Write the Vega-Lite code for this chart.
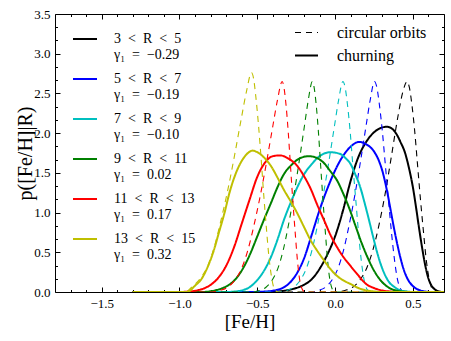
{
"$schema":"https://vega.github.io/schema/vega-lite/v6.json",
"width":389,"height":278,"autosize":"none",
"padding":{"left":55,"top":14,"right":7,"bottom":49},
"config":{"view":{"stroke":"black","strokeWidth":1},"font":"Liberation Serif","style":{"guide-label":{"lineHeight":16}},"axis":{"grid":false,"domain":false,"tickColor":"black","labelColor":"black","titleColor":"black","titleFontWeight":"normal","labelFontSize":13,"titleFontSize":20,"labelFont":"Liberation Serif","titleFont":"Liberation Serif"},"legend":{"labelFont":"Liberation Serif","labelColor":"black"}},
"data":{"values":[
{"bin":"3-5","type":"circ","feh":-1.3,"p":0},{"bin":"3-5","type":"circ","feh":0.013,"p":0},{"bin":"3-5","type":"circ","feh":0.063,"p":0.02},{"bin":"3-5","type":"circ","feh":0.113,"p":0.06},{"bin":"3-5","type":"circ","feh":0.163,"p":0.16},{"bin":"3-5","type":"circ","feh":0.203,"p":0.3},{"bin":"3-5","type":"circ","feh":0.243,"p":0.53},{"bin":"3-5","type":"circ","feh":0.283,"p":0.85},{"bin":"3-5","type":"circ","feh":0.323,"p":1.25},{"bin":"3-5","type":"circ","feh":0.363,"p":1.72},{"bin":"3-5","type":"circ","feh":0.403,"p":2.2},{"bin":"3-5","type":"circ","feh":0.433,"p":2.5},{"bin":"3-5","type":"circ","feh":0.463,"p":2.65},{"bin":"3-5","type":"circ","feh":0.477,"p":2.58},{"bin":"3-5","type":"circ","feh":0.493,"p":2.37},{"bin":"3-5","type":"circ","feh":0.511,"p":2.04},{"bin":"3-5","type":"circ","feh":0.53,"p":1.6},{"bin":"3-5","type":"circ","feh":0.549,"p":1.16},{"bin":"3-5","type":"circ","feh":0.569,"p":0.74},{"bin":"3-5","type":"circ","feh":0.585,"p":0.42},{"bin":"3-5","type":"circ","feh":0.601,"p":0.2},{"bin":"3-5","type":"circ","feh":0.617,"p":0.07},{"bin":"3-5","type":"circ","feh":0.631,"p":0.02},{"bin":"3-5","type":"circ","feh":0.649,"p":0},{"bin":"3-5","type":"circ","feh":0.7,"p":0},
{"bin":"3-5","type":"churn","feh":-1.3,"p":0},{"bin":"3-5","type":"churn","feh":-0.45,"p":0},{"bin":"3-5","type":"churn","feh":-0.4,"p":0.003},{"bin":"3-5","type":"churn","feh":-0.35,"p":0.01},{"bin":"3-5","type":"churn","feh":-0.3,"p":0.025},{"bin":"3-5","type":"churn","feh":-0.25,"p":0.05},{"bin":"3-5","type":"churn","feh":-0.2,"p":0.09},{"bin":"3-5","type":"churn","feh":-0.15,"p":0.16},{"bin":"3-5","type":"churn","feh":-0.1,"p":0.29},{"bin":"3-5","type":"churn","feh":-0.05,"p":0.47},{"bin":"3-5","type":"churn","feh":0.0,"p":0.7},{"bin":"3-5","type":"churn","feh":0.05,"p":1.02},{"bin":"3-5","type":"churn","feh":0.1,"p":1.4},{"bin":"3-5","type":"churn","feh":0.15,"p":1.7},{"bin":"3-5","type":"churn","feh":0.2,"p":1.89},{"bin":"3-5","type":"churn","feh":0.25,"p":2.01},{"bin":"3-5","type":"churn","feh":0.3,"p":2.07},{"bin":"3-5","type":"churn","feh":0.335,"p":2.08},{"bin":"3-5","type":"churn","feh":0.37,"p":2.05},{"bin":"3-5","type":"churn","feh":0.4,"p":1.97},{"bin":"3-5","type":"churn","feh":0.42,"p":1.89},{"bin":"3-5","type":"churn","feh":0.45,"p":1.75},{"bin":"3-5","type":"churn","feh":0.475,"p":1.56},{"bin":"3-5","type":"churn","feh":0.5,"p":1.32},{"bin":"3-5","type":"churn","feh":0.52,"p":1.07},{"bin":"3-5","type":"churn","feh":0.54,"p":0.8},{"bin":"3-5","type":"churn","feh":0.56,"p":0.55},{"bin":"3-5","type":"churn","feh":0.58,"p":0.33},{"bin":"3-5","type":"churn","feh":0.6,"p":0.17},{"bin":"3-5","type":"churn","feh":0.62,"p":0.08},{"bin":"3-5","type":"churn","feh":0.64,"p":0.035},{"bin":"3-5","type":"churn","feh":0.66,"p":0.012},{"bin":"3-5","type":"churn","feh":0.68,"p":0.003},{"bin":"3-5","type":"churn","feh":0.7,"p":0},
{"bin":"5-7","type":"circ","feh":-1.3,"p":0},{"bin":"5-7","type":"circ","feh":-0.152,"p":0},{"bin":"5-7","type":"circ","feh":-0.107,"p":0.02},{"bin":"5-7","type":"circ","feh":-0.062,"p":0.06},{"bin":"5-7","type":"circ","feh":-0.017,"p":0.16},{"bin":"5-7","type":"circ","feh":0.019,"p":0.3},{"bin":"5-7","type":"circ","feh":0.055,"p":0.53},{"bin":"5-7","type":"circ","feh":0.091,"p":0.85},{"bin":"5-7","type":"circ","feh":0.127,"p":1.22},{"bin":"5-7","type":"circ","feh":0.163,"p":1.64},{"bin":"5-7","type":"circ","feh":0.199,"p":2.09},{"bin":"5-7","type":"circ","feh":0.226,"p":2.42},{"bin":"5-7","type":"circ","feh":0.253,"p":2.65},{"bin":"5-7","type":"circ","feh":0.268,"p":2.58},{"bin":"5-7","type":"circ","feh":0.284,"p":2.37},{"bin":"5-7","type":"circ","feh":0.303,"p":2.04},{"bin":"5-7","type":"circ","feh":0.323,"p":1.6},{"bin":"5-7","type":"circ","feh":0.343,"p":1.16},{"bin":"5-7","type":"circ","feh":0.363,"p":0.74},{"bin":"5-7","type":"circ","feh":0.381,"p":0.42},{"bin":"5-7","type":"circ","feh":0.397,"p":0.2},{"bin":"5-7","type":"circ","feh":0.413,"p":0.07},{"bin":"5-7","type":"circ","feh":0.428,"p":0.02},{"bin":"5-7","type":"circ","feh":0.447,"p":0},{"bin":"5-7","type":"circ","feh":0.7,"p":0},
{"bin":"5-7","type":"churn","feh":-1.3,"p":0},{"bin":"5-7","type":"churn","feh":-0.55,"p":0},{"bin":"5-7","type":"churn","feh":-0.5,"p":0.002},{"bin":"5-7","type":"churn","feh":-0.45,"p":0.006},{"bin":"5-7","type":"churn","feh":-0.4,"p":0.016},{"bin":"5-7","type":"churn","feh":-0.35,"p":0.04},{"bin":"5-7","type":"churn","feh":-0.3,"p":0.1},{"bin":"5-7","type":"churn","feh":-0.25,"p":0.22},{"bin":"5-7","type":"churn","feh":-0.2,"p":0.42},{"bin":"5-7","type":"churn","feh":-0.15,"p":0.72},{"bin":"5-7","type":"churn","feh":-0.1,"p":1.03},{"bin":"5-7","type":"churn","feh":-0.05,"p":1.3},{"bin":"5-7","type":"churn","feh":0.0,"p":1.53},{"bin":"5-7","type":"churn","feh":0.05,"p":1.71},{"bin":"5-7","type":"churn","feh":0.1,"p":1.83},{"bin":"5-7","type":"churn","feh":0.155,"p":1.89},{"bin":"5-7","type":"churn","feh":0.2,"p":1.86},{"bin":"5-7","type":"churn","feh":0.25,"p":1.77},{"bin":"5-7","type":"churn","feh":0.28,"p":1.66},{"bin":"5-7","type":"churn","feh":0.31,"p":1.48},{"bin":"5-7","type":"churn","feh":0.335,"p":1.26},{"bin":"5-7","type":"churn","feh":0.36,"p":1.0},{"bin":"5-7","type":"churn","feh":0.38,"p":0.79},{"bin":"5-7","type":"churn","feh":0.4,"p":0.6},{"bin":"5-7","type":"churn","feh":0.42,"p":0.43},{"bin":"5-7","type":"churn","feh":0.44,"p":0.29},{"bin":"5-7","type":"churn","feh":0.47,"p":0.15},{"bin":"5-7","type":"churn","feh":0.5,"p":0.075},{"bin":"5-7","type":"churn","feh":0.54,"p":0.025},{"bin":"5-7","type":"churn","feh":0.58,"p":0.006},{"bin":"5-7","type":"churn","feh":0.62,"p":0},{"bin":"5-7","type":"churn","feh":0.7,"p":0},
{"bin":"7-9","type":"circ","feh":-1.3,"p":0},{"bin":"7-9","type":"circ","feh":-0.355,"p":0},{"bin":"7-9","type":"circ","feh":-0.31,"p":0.02},{"bin":"7-9","type":"circ","feh":-0.265,"p":0.06},{"bin":"7-9","type":"circ","feh":-0.22,"p":0.16},{"bin":"7-9","type":"circ","feh":-0.184,"p":0.3},{"bin":"7-9","type":"circ","feh":-0.148,"p":0.53},{"bin":"7-9","type":"circ","feh":-0.112,"p":0.85},{"bin":"7-9","type":"circ","feh":-0.076,"p":1.22},{"bin":"7-9","type":"circ","feh":-0.04,"p":1.64},{"bin":"7-9","type":"circ","feh":-0.004,"p":2.09},{"bin":"7-9","type":"circ","feh":0.023,"p":2.42},{"bin":"7-9","type":"circ","feh":0.05,"p":2.65},{"bin":"7-9","type":"circ","feh":0.064,"p":2.58},{"bin":"7-9","type":"circ","feh":0.079,"p":2.37},{"bin":"7-9","type":"circ","feh":0.096,"p":2.04},{"bin":"7-9","type":"circ","feh":0.114,"p":1.6},{"bin":"7-9","type":"circ","feh":0.133,"p":1.16},{"bin":"7-9","type":"circ","feh":0.151,"p":0.74},{"bin":"7-9","type":"circ","feh":0.167,"p":0.42},{"bin":"7-9","type":"circ","feh":0.182,"p":0.2},{"bin":"7-9","type":"circ","feh":0.197,"p":0.07},{"bin":"7-9","type":"circ","feh":0.211,"p":0.02},{"bin":"7-9","type":"circ","feh":0.228,"p":0},{"bin":"7-9","type":"circ","feh":0.7,"p":0},
{"bin":"7-9","type":"churn","feh":-1.3,"p":0},{"bin":"7-9","type":"churn","feh":-0.7,"p":0},{"bin":"7-9","type":"churn","feh":-0.65,"p":0.005},{"bin":"7-9","type":"churn","feh":-0.6,"p":0.02},{"bin":"7-9","type":"churn","feh":-0.55,"p":0.06},{"bin":"7-9","type":"churn","feh":-0.5,"p":0.15},{"bin":"7-9","type":"churn","feh":-0.45,"p":0.29},{"bin":"7-9","type":"churn","feh":-0.41,"p":0.45},{"bin":"7-9","type":"churn","feh":-0.37,"p":0.66},{"bin":"7-9","type":"churn","feh":-0.33,"p":0.9},{"bin":"7-9","type":"churn","feh":-0.28,"p":1.15},{"bin":"7-9","type":"churn","feh":-0.24,"p":1.33},{"bin":"7-9","type":"churn","feh":-0.2,"p":1.48},{"bin":"7-9","type":"churn","feh":-0.15,"p":1.61},{"bin":"7-9","type":"churn","feh":-0.1,"p":1.71},{"bin":"7-9","type":"churn","feh":-0.03,"p":1.76},{"bin":"7-9","type":"churn","feh":0.03,"p":1.74},{"bin":"7-9","type":"churn","feh":0.07,"p":1.68},{"bin":"7-9","type":"churn","feh":0.1,"p":1.61},{"bin":"7-9","type":"churn","feh":0.13,"p":1.48},{"bin":"7-9","type":"churn","feh":0.16,"p":1.33},{"bin":"7-9","type":"churn","feh":0.19,"p":1.12},{"bin":"7-9","type":"churn","feh":0.22,"p":0.89},{"bin":"7-9","type":"churn","feh":0.245,"p":0.69},{"bin":"7-9","type":"churn","feh":0.27,"p":0.5},{"bin":"7-9","type":"churn","feh":0.29,"p":0.37},{"bin":"7-9","type":"churn","feh":0.315,"p":0.24},{"bin":"7-9","type":"churn","feh":0.345,"p":0.13},{"bin":"7-9","type":"churn","feh":0.38,"p":0.065},{"bin":"7-9","type":"churn","feh":0.42,"p":0.02},{"bin":"7-9","type":"churn","feh":0.47,"p":0.004},{"bin":"7-9","type":"churn","feh":0.5,"p":0},{"bin":"7-9","type":"churn","feh":0.7,"p":0},
{"bin":"9-11","type":"circ","feh":-1.3,"p":0},{"bin":"9-11","type":"circ","feh":-0.529,"p":0},{"bin":"9-11","type":"circ","feh":-0.486,"p":0.02},{"bin":"9-11","type":"circ","feh":-0.444,"p":0.06},{"bin":"9-11","type":"circ","feh":-0.401,"p":0.16},{"bin":"9-11","type":"circ","feh":-0.367,"p":0.3},{"bin":"9-11","type":"circ","feh":-0.333,"p":0.53},{"bin":"9-11","type":"circ","feh":-0.299,"p":0.85},{"bin":"9-11","type":"circ","feh":-0.265,"p":1.22},{"bin":"9-11","type":"circ","feh":-0.231,"p":1.64},{"bin":"9-11","type":"circ","feh":-0.197,"p":2.09},{"bin":"9-11","type":"circ","feh":-0.172,"p":2.42},{"bin":"9-11","type":"circ","feh":-0.146,"p":2.65},{"bin":"9-11","type":"circ","feh":-0.135,"p":2.58},{"bin":"9-11","type":"circ","feh":-0.122,"p":2.37},{"bin":"9-11","type":"circ","feh":-0.108,"p":2.04},{"bin":"9-11","type":"circ","feh":-0.093,"p":1.6},{"bin":"9-11","type":"circ","feh":-0.078,"p":1.16},{"bin":"9-11","type":"circ","feh":-0.062,"p":0.74},{"bin":"9-11","type":"circ","feh":-0.049,"p":0.42},{"bin":"9-11","type":"circ","feh":-0.037,"p":0.2},{"bin":"9-11","type":"circ","feh":-0.024,"p":0.07},{"bin":"9-11","type":"circ","feh":-0.013,"p":0.02},{"bin":"9-11","type":"circ","feh":0.001,"p":0},{"bin":"9-11","type":"circ","feh":0.7,"p":0},
{"bin":"9-11","type":"churn","feh":-1.3,"p":0},{"bin":"9-11","type":"churn","feh":-0.85,"p":0},{"bin":"9-11","type":"churn","feh":-0.8,"p":0.01},{"bin":"9-11","type":"churn","feh":-0.75,"p":0.03},{"bin":"9-11","type":"churn","feh":-0.7,"p":0.07},{"bin":"9-11","type":"churn","feh":-0.65,"p":0.14},{"bin":"9-11","type":"churn","feh":-0.6,"p":0.27},{"bin":"9-11","type":"churn","feh":-0.55,"p":0.46},{"bin":"9-11","type":"churn","feh":-0.5,"p":0.7},{"bin":"9-11","type":"churn","feh":-0.455,"p":0.92},{"bin":"9-11","type":"churn","feh":-0.41,"p":1.13},{"bin":"9-11","type":"churn","feh":-0.37,"p":1.32},{"bin":"9-11","type":"churn","feh":-0.33,"p":1.48},{"bin":"9-11","type":"churn","feh":-0.28,"p":1.6},{"bin":"9-11","type":"churn","feh":-0.23,"p":1.68},{"bin":"9-11","type":"churn","feh":-0.168,"p":1.71},{"bin":"9-11","type":"churn","feh":-0.12,"p":1.69},{"bin":"9-11","type":"churn","feh":-0.07,"p":1.62},{"bin":"9-11","type":"churn","feh":-0.03,"p":1.52},{"bin":"9-11","type":"churn","feh":0.014,"p":1.4},{"bin":"9-11","type":"churn","feh":0.05,"p":1.25},{"bin":"9-11","type":"churn","feh":0.09,"p":1.06},{"bin":"9-11","type":"churn","feh":0.13,"p":0.84},{"bin":"9-11","type":"churn","feh":0.17,"p":0.62},{"bin":"9-11","type":"churn","feh":0.21,"p":0.43},{"bin":"9-11","type":"churn","feh":0.25,"p":0.27},{"bin":"9-11","type":"churn","feh":0.3,"p":0.13},{"bin":"9-11","type":"churn","feh":0.35,"p":0.05},{"bin":"9-11","type":"churn","feh":0.4,"p":0.015},{"bin":"9-11","type":"churn","feh":0.45,"p":0.003},{"bin":"9-11","type":"churn","feh":0.5,"p":0},{"bin":"9-11","type":"churn","feh":0.7,"p":0},
{"bin":"11-13","type":"circ","feh":-1.3,"p":0},{"bin":"11-13","type":"circ","feh":-0.79,"p":0},{"bin":"11-13","type":"circ","feh":-0.74,"p":0.02},{"bin":"11-13","type":"circ","feh":-0.69,"p":0.06},{"bin":"11-13","type":"circ","feh":-0.64,"p":0.16},{"bin":"11-13","type":"circ","feh":-0.6,"p":0.3},{"bin":"11-13","type":"circ","feh":-0.56,"p":0.53},{"bin":"11-13","type":"circ","feh":-0.52,"p":0.85},{"bin":"11-13","type":"circ","feh":-0.48,"p":1.22},{"bin":"11-13","type":"circ","feh":-0.44,"p":1.64},{"bin":"11-13","type":"circ","feh":-0.4,"p":2.09},{"bin":"11-13","type":"circ","feh":-0.37,"p":2.42},{"bin":"11-13","type":"circ","feh":-0.34,"p":2.65},{"bin":"11-13","type":"circ","feh":-0.329,"p":2.58},{"bin":"11-13","type":"circ","feh":-0.316,"p":2.37},{"bin":"11-13","type":"circ","feh":-0.302,"p":2.04},{"bin":"11-13","type":"circ","feh":-0.287,"p":1.6},{"bin":"11-13","type":"circ","feh":-0.272,"p":1.16},{"bin":"11-13","type":"circ","feh":-0.256,"p":0.74},{"bin":"11-13","type":"circ","feh":-0.243,"p":0.42},{"bin":"11-13","type":"circ","feh":-0.231,"p":0.2},{"bin":"11-13","type":"circ","feh":-0.218,"p":0.07},{"bin":"11-13","type":"circ","feh":-0.207,"p":0.02},{"bin":"11-13","type":"circ","feh":-0.193,"p":0},{"bin":"11-13","type":"circ","feh":0.7,"p":0},
{"bin":"11-13","type":"churn","feh":-1.3,"p":0},{"bin":"11-13","type":"churn","feh":-1.0,"p":0},{"bin":"11-13","type":"churn","feh":-0.95,"p":0.005},{"bin":"11-13","type":"churn","feh":-0.9,"p":0.015},{"bin":"11-13","type":"churn","feh":-0.85,"p":0.04},{"bin":"11-13","type":"churn","feh":-0.8,"p":0.09},{"bin":"11-13","type":"churn","feh":-0.75,"p":0.18},{"bin":"11-13","type":"churn","feh":-0.7,"p":0.33},{"bin":"11-13","type":"churn","feh":-0.65,"p":0.56},{"bin":"11-13","type":"churn","feh":-0.6,"p":0.86},{"bin":"11-13","type":"churn","feh":-0.55,"p":1.16},{"bin":"11-13","type":"churn","feh":-0.5,"p":1.45},{"bin":"11-13","type":"churn","feh":-0.45,"p":1.63},{"bin":"11-13","type":"churn","feh":-0.4,"p":1.71},{"bin":"11-13","type":"churn","feh":-0.354,"p":1.72},{"bin":"11-13","type":"churn","feh":-0.3,"p":1.68},{"bin":"11-13","type":"churn","feh":-0.24,"p":1.58},{"bin":"11-13","type":"churn","feh":-0.2,"p":1.46},{"bin":"11-13","type":"churn","feh":-0.157,"p":1.3},{"bin":"11-13","type":"churn","feh":-0.115,"p":1.1},{"bin":"11-13","type":"churn","feh":-0.07,"p":0.9},{"bin":"11-13","type":"churn","feh":-0.03,"p":0.72},{"bin":"11-13","type":"churn","feh":0.014,"p":0.56},{"bin":"11-13","type":"churn","feh":0.05,"p":0.45},{"bin":"11-13","type":"churn","feh":0.09,"p":0.35},{"bin":"11-13","type":"churn","feh":0.14,"p":0.23},{"bin":"11-13","type":"churn","feh":0.2,"p":0.1},{"bin":"11-13","type":"churn","feh":0.25,"p":0.05},{"bin":"11-13","type":"churn","feh":0.3,"p":0.02},{"bin":"11-13","type":"churn","feh":0.35,"p":0.007},{"bin":"11-13","type":"churn","feh":0.4,"p":0},{"bin":"11-13","type":"churn","feh":0.7,"p":0},
{"bin":"13-15","type":"circ","feh":-1.3,"p":0},{"bin":"13-15","type":"circ","feh":-0.96,"p":0},{"bin":"13-15","type":"circ","feh":-0.922,"p":0.06},{"bin":"13-15","type":"circ","feh":-0.867,"p":0.17},{"bin":"13-15","type":"circ","feh":-0.823,"p":0.31},{"bin":"13-15","type":"circ","feh":-0.779,"p":0.55},{"bin":"13-15","type":"circ","feh":-0.735,"p":0.89},{"bin":"13-15","type":"circ","feh":-0.691,"p":1.27},{"bin":"13-15","type":"circ","feh":-0.647,"p":1.71},{"bin":"13-15","type":"circ","feh":-0.603,"p":2.18},{"bin":"13-15","type":"circ","feh":-0.57,"p":2.52},{"bin":"13-15","type":"circ","feh":-0.537,"p":2.76},{"bin":"13-15","type":"circ","feh":-0.524,"p":2.69},{"bin":"13-15","type":"circ","feh":-0.51,"p":2.47},{"bin":"13-15","type":"circ","feh":-0.493,"p":2.12},{"bin":"13-15","type":"circ","feh":-0.475,"p":1.67},{"bin":"13-15","type":"circ","feh":-0.458,"p":1.21},{"bin":"13-15","type":"circ","feh":-0.44,"p":0.77},{"bin":"13-15","type":"circ","feh":-0.425,"p":0.44},{"bin":"13-15","type":"circ","feh":-0.41,"p":0.21},{"bin":"13-15","type":"circ","feh":-0.396,"p":0.07},{"bin":"13-15","type":"circ","feh":-0.383,"p":0.02},{"bin":"13-15","type":"circ","feh":-0.366,"p":0},{"bin":"13-15","type":"circ","feh":0.7,"p":0},
{"bin":"13-15","type":"churn","feh":-1.3,"p":0},{"bin":"13-15","type":"churn","feh":-0.95,"p":0},{"bin":"13-15","type":"churn","feh":-0.9,"p":0.08},{"bin":"13-15","type":"churn","feh":-0.86,"p":0.16},{"bin":"13-15","type":"churn","feh":-0.82,"p":0.31},{"bin":"13-15","type":"churn","feh":-0.78,"p":0.52},{"bin":"13-15","type":"churn","feh":-0.745,"p":0.76},{"bin":"13-15","type":"churn","feh":-0.71,"p":1.0},{"bin":"13-15","type":"churn","feh":-0.68,"p":1.24},{"bin":"13-15","type":"churn","feh":-0.65,"p":1.43},{"bin":"13-15","type":"churn","feh":-0.6,"p":1.65},{"bin":"13-15","type":"churn","feh":-0.56,"p":1.75},{"bin":"13-15","type":"churn","feh":-0.531,"p":1.78},{"bin":"13-15","type":"churn","feh":-0.5,"p":1.76},{"bin":"13-15","type":"churn","feh":-0.45,"p":1.68},{"bin":"13-15","type":"churn","feh":-0.41,"p":1.58},{"bin":"13-15","type":"churn","feh":-0.37,"p":1.44},{"bin":"13-15","type":"churn","feh":-0.33,"p":1.29},{"bin":"13-15","type":"churn","feh":-0.285,"p":1.14},{"bin":"13-15","type":"churn","feh":-0.24,"p":0.98},{"bin":"13-15","type":"churn","feh":-0.2,"p":0.82},{"bin":"13-15","type":"churn","feh":-0.157,"p":0.65},{"bin":"13-15","type":"churn","feh":-0.115,"p":0.52},{"bin":"13-15","type":"churn","feh":-0.072,"p":0.4},{"bin":"13-15","type":"churn","feh":-0.03,"p":0.29},{"bin":"13-15","type":"churn","feh":0.014,"p":0.2},{"bin":"13-15","type":"churn","feh":0.05,"p":0.15},{"bin":"13-15","type":"churn","feh":0.1,"p":0.1},{"bin":"13-15","type":"churn","feh":0.15,"p":0.05},{"bin":"13-15","type":"churn","feh":0.2,"p":0.02},{"bin":"13-15","type":"churn","feh":0.25,"p":0.007},{"bin":"13-15","type":"churn","feh":0.3,"p":0},{"bin":"13-15","type":"churn","feh":0.7,"p":0}
]},
"layer":[
{"mark":{"type":"line","interpolate":"monotone","clip":true},
 "encoding":{
  "x":{"field":"feh","type":"quantitative","scale":{"domain":[-1.8,0.7],"nice":false,"zero":false},"axis":{"orient":"bottom","values":[-1.5,-1,-0.5,0,0.5],"format":".1f","tickSize":-5,"labelPadding":10,"title":"[Fe/H]","titleFontSize":19,"titlePadding":2}},
  "y":{"field":"p","type":"quantitative","scale":{"domain":[0,3.5],"nice":false},"axis":{"orient":"left","values":[0,0.5,1,1.5,2,2.5,3,3.5],"format":".1f","tickSize":-5,"labelPadding":10,"title":"p([Fe/H]|R)","titlePadding":-2}},
  "color":{"field":"bin","type":"nominal","scale":{"domain":["3-5","5-7","7-9","9-11","11-13","13-15"],"range":["#000000","#0000ff","#00bfbf","#008000","#ff0000","#bfbf00"]},
   "legend":{"orient":"none","legendX":17,"legendY":12,"title":null,"padding":0,"symbolType":"stroke","symbolSize":576,"symbolStrokeWidth":2,"labelFontSize":14,"labelOffset":16,"rowPadding":4,"labelLimit":0,"labelExpr":"datum.label=='3-5'?['3\u2002<\u2002R\u2002<\u20025','γ₁\u2002=\u2002−0.29']:datum.label=='5-7'?['5\u2002<\u2002R\u2002<\u20027','γ₁\u2002=\u2002−0.19']:datum.label=='7-9'?['7\u2002<\u2002R\u2002<\u20029','γ₁\u2002=\u2002−0.10']:datum.label=='9-11'?['9\u2002<\u2002R\u2002<\u200211','γ₁\u2002=\u20020.02']:datum.label=='11-13'?['11\u2002<\u2002R\u2002<\u200213','γ₁\u2002=\u20020.17']:['13\u2002<\u2002R\u2002<\u200215','γ₁\u2002=\u20020.32']"}},
  "strokeDash":{"field":"type","type":"nominal","scale":{"domain":["circ","churn"],"range":[[6,5],[1,0]]},
   "legend":{"orient":"none","legendX":239,"legendY":6,"title":null,"padding":0,"symbolType":"stroke","symbolSize":529,"symbolStrokeColor":"black","symbolStrokeWidth":2,"labelFontSize":16,"labelOffset":18,"rowPadding":2,"labelLimit":0,"labelExpr":"datum.label=='circ'?'circular orbits':'churning'"}},
  "strokeWidth":{"field":"type","type":"nominal","scale":{"domain":["circ","churn"],"range":[1.1,2]},"legend":null}
 }},
{"mark":{"type":"point","opacity":0},
 "encoding":{
  "x":{"field":"feh","type":"quantitative","axis":{"orient":"bottom","values":[-1.7,-1.6,-1.4,-1.3,-1.2,-1.1,-0.9,-0.8,-0.7,-0.6,-0.4,-0.3,-0.2,-0.1,0.1,0.2,0.3,0.4,0.6],"tickSize":-2.5,"labels":false,"title":null}},
  "y":{"field":"p","type":"quantitative","axis":{"orient":"left","values":[0.1667,0.3333,0.6667,0.8333,1.1667,1.3333,1.6667,1.8333,2.1667,2.3333,2.6667,2.8333,3.1667,3.3333],"tickSize":-2.5,"labels":false,"title":null}}
 }},
{"mark":{"type":"point","opacity":0},
 "encoding":{
  "x":{"field":"feh","type":"quantitative","axis":{"orient":"top","values":[-1.5,-1,-0.5,0,0.5],"tickSize":-5,"labels":false,"title":null}},
  "y":{"field":"p","type":"quantitative","axis":{"orient":"right","values":[0,0.5,1,1.5,2,2.5,3,3.5],"tickSize":-5,"labels":false,"title":null}}
 }},
{"mark":{"type":"point","opacity":0},
 "encoding":{
  "x":{"field":"feh","type":"quantitative","axis":{"orient":"top","values":[-1.7,-1.6,-1.4,-1.3,-1.2,-1.1,-0.9,-0.8,-0.7,-0.6,-0.4,-0.3,-0.2,-0.1,0.1,0.2,0.3,0.4,0.6],"tickSize":-2.5,"labels":false,"title":null}},
  "y":{"field":"p","type":"quantitative","axis":{"orient":"right","values":[0.1667,0.3333,0.6667,0.8333,1.1667,1.3333,1.6667,1.8333,2.1667,2.3333,2.6667,2.8333,3.1667,3.3333],"tickSize":-2.5,"labels":false,"title":null}}
 }}
],
"resolve":{"axis":{"x":"independent","y":"independent"}}
}
